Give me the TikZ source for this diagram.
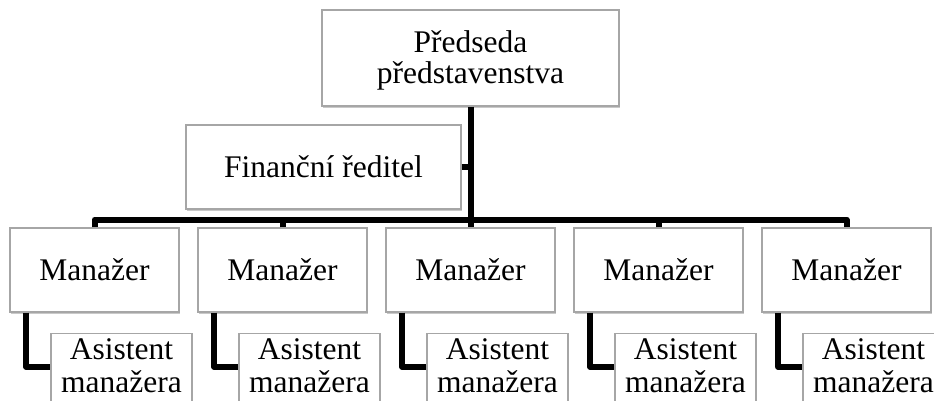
\documentclass[tikz,border=0pt]{standalone}
\usepackage{fontspec}
\setmainfont{Liberation Serif}
\usetikzlibrary{shadows}
\definecolor{boxgray}{HTML}{A6A6A6}
\begin{document}
\begin{tikzpicture}[x=1pt,y=-1pt,
  orgbox/.style={draw=boxgray, line width=1.1pt, fill=white, rectangle, inner sep=0pt,
    align=center, font=\fontsize{31.5}{33}\selectfont,
    drop shadow={shadow xshift=1.2pt, shadow yshift=-1.6pt, opacity=0.3, fill=black!70}},
  mgr/.style={orgbox, minimum width=169pt, minimum height=84pt},
  asst/.style={orgbox, minimum width=141pt, inner ysep=5.5pt, anchor=north},
  link/.style={line width=6pt, draw=black, line join=round}]
\useasboundingbox (0,0) rectangle (934,401);
\clip (0,0) rectangle (934,401);

\node[orgbox, minimum width=297pt, minimum height=96pt,
      font=\fontsize{31.5}{31}\selectfont] (top) at (470.5,58)
  {\rule{0pt}{26.5pt}Předseda\\představenstva};
\node[orgbox, minimum width=275pt, minimum height=84pt] (fin) at (323.5,167) {Finanční ředitel};

\node[mgr] (m1) at (94.5,270) {Manažer};
\node[mgr] (m2) at (282.5,270) {Manažer};
\node[mgr] (m3) at (470.5,270) {Manažer};
\node[mgr] (m4) at (658.5,270) {Manažer};
\node[mgr] (m5) at (846.5,270) {Manažer};

\node[asst] (a1) at (121.5,333) {Asistent\\manažera\rule[-40pt]{0pt}{0pt}};
\node[asst] (a2) at (309.5,333) {Asistent\\manažera\rule[-40pt]{0pt}{0pt}};
\node[asst] (a3) at (497.5,333) {Asistent\\manažera\rule[-40pt]{0pt}{0pt}};
\node[asst] (a4) at (685.5,333) {Asistent\\manažera\rule[-40pt]{0pt}{0pt}};
\node[asst] (a5) at (873.5,333) {Asistent\\manažera\rule[-40pt]{0pt}{0pt}};

\coordinate (bar) at (470.5,219.5);
\draw[link] (top.south) -- (m3.north);
\draw[link] (fin.east) -- (fin.east -| top.south);
\draw[link] (m1.north) |- (bar) -| (m5.north);
\draw[link] (m2.north) -- (m2.north |- bar);
\draw[link] (m4.north) -- (m4.north |- bar);

\foreach \i in {1,...,5}{
  \draw[link] ([xshift=17pt]m\i.south west) |- ([yshift=-34pt]a\i.north west);
}
\end{tikzpicture}
\end{document}
